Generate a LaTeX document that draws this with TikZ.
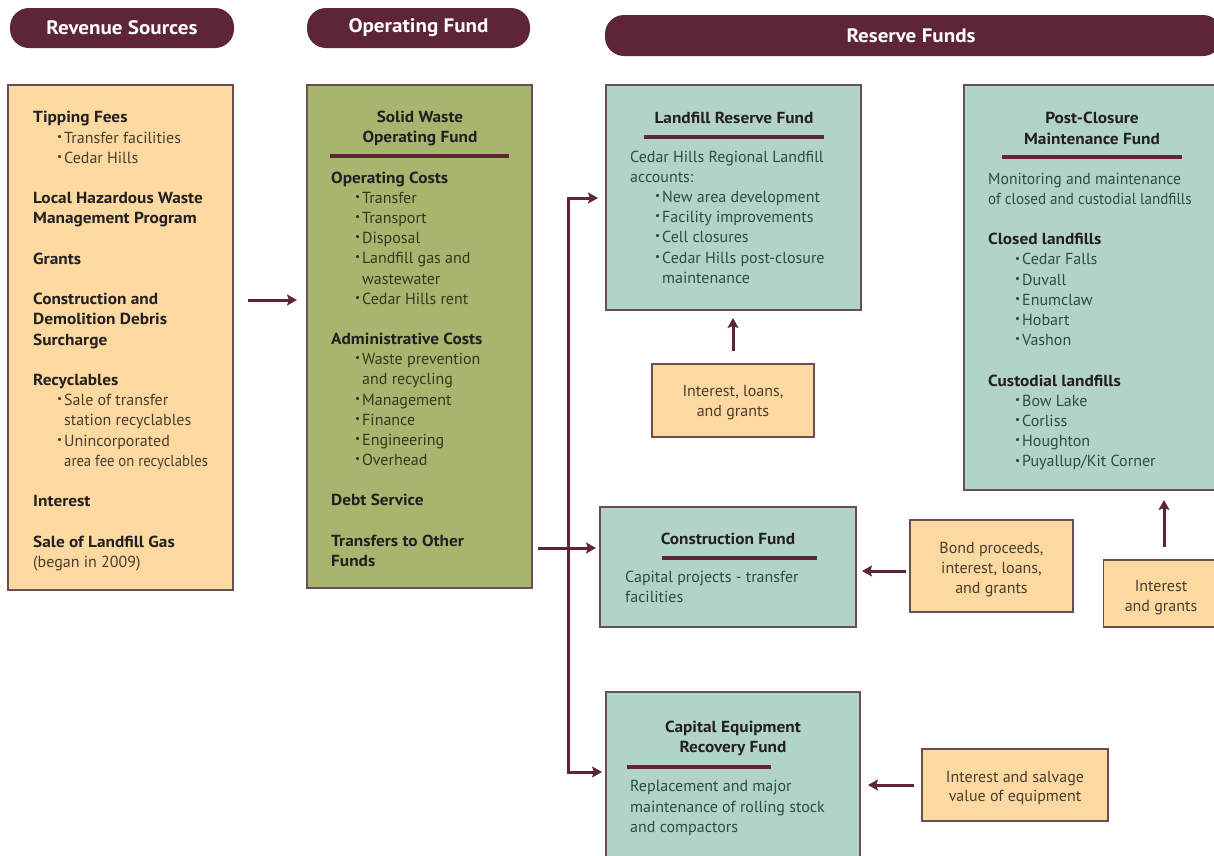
\documentclass[tikz,border=0pt]{standalone}
\usepackage{fontspec}
\usepackage{graphicx}
\setmainfont{PT Sans}[BoldFeatures={FakeStretch=1.08}]
\usetikzlibrary{arrows.meta,calc}
\definecolor{maroon}{HTML}{5E2535}
\definecolor{peach}{HTML}{FCD9A0}
\definecolor{olive}{HTML}{A8B56E}
\definecolor{mint}{HTML}{B2D4C7}
\definecolor{edge}{HTML}{6A4F50}
\definecolor{hdcol}{HTML}{231F20}
\definecolor{txbrown}{HTML}{4D3B2F}
\definecolor{txolive}{HTML}{33381F}
\definecolor{txteal}{HTML}{2E4A45}
\newcommand\mybul{\raisebox{0.18em}{\scalebox{0.7}{\textbullet}}}
\newcommand\rbul{\hspace*{24pt}\makebox[7pt][l]{\mybul}}
\newcommand\rcont{\hspace*{31pt}}
\newcommand\hdr[1]{{\color{hdcol}\bfseries #1}}
\newcommand\narrow[2]{\scalebox{#1}[1]{#2}}
\tikzset{
  pill/.style={fill=maroon, rounded corners=19pt, inner sep=0pt},
  pilltext/.style={text=white, inner sep=0pt, font=\fontsize{19.5}{21}\selectfont\bfseries},
  box/.style={draw=edge, line width=1.4pt, inner sep=0pt, outer sep=0pt, anchor=north west},
  body/.style={anchor=north west, align=left, inner sep=0pt,
    font=\fontsize{16}{20.2}\selectfont, execute at begin node={\strut}},
  ttl/.style={anchor=north, align=center, inner sep=0pt, text=hdcol,
    font=\fontsize{16}{20.2}\selectfont\bfseries, execute at begin node={\strut}},
  smallbox/.style={draw=edge, line width=1.4pt, fill=peach, inner sep=0pt},
  stxt/.style={align=center, inner sep=0pt, text=txbrown, font=\fontsize{16}{19.8}\selectfont},
  rule/.style={draw=maroon, line width=3.2pt},
  tip/.tip={Stealth[length=10pt,width=11pt,inset=2pt]},
  arr/.style={draw=maroon, line width=3pt, -tip},
  arrboth/.style={draw=maroon, line width=3pt, tip-tip},
}
\begin{document}
\begin{tikzpicture}[x=1pt,y=-1pt]
\useasboundingbox (0,0) rectangle (1214,855);
\fill[white] (0,0) rectangle (1214,855);
\clip (0,0) rectangle (1214,855);

% headers
\node[pill, minimum width=224pt, minimum height=40pt] (h1) at (122,28) {};
\node[pilltext] (h1t) at (h1.center) {Revenue Sources};
\node[pill, minimum width=223pt, minimum height=40pt] (h2) at (418.5,28) {};
\node[pilltext] (h2t) at (h2.center) {Operating Fund};
\node[pill, minimum width=617pt, minimum height=41pt] (h3) at (913.5,35.5) {};
\node[pilltext] (h3t) at (911,35.5) {Reserve Funds};

% boxes
\node[box, fill=peach, minimum width=225pt, minimum height=505pt] (rev) at (8,85) {};
\node[box, fill=olive, minimum width=225pt, minimum height=503pt] (op) at (307,85) {};
\node[box, fill=mint, minimum width=255pt, minimum height=225pt] (lrf) at (606,85) {};
\node[box, fill=mint, minimum width=270pt, minimum height=405pt] (pcf) at (964,85) {};
\node[box, fill=mint, minimum width=256pt, minimum height=120pt] (cf) at (600,507) {};
\node[box, fill=mint, minimum width=254pt, minimum height=180pt] (cerf) at (606,692) {};

% revenue text
\node[body, text=txbrown] (revtxt) at (33,111.4) {%
\hdr{Tipping Fees}\\
\rbul Transfer facilities\\
\rbul Cedar Hills\\[20.2pt]
\hdr{Local Hazardous Waste}\\
\hdr{Management Program}\\[20.2pt]
\hdr{Grants}\\[20.2pt]
\hdr{Construction and}\\
\hdr{Demolition Debris}\\
\hdr{Surcharge}\\[20.2pt]
\hdr{Recyclables}\\
\rbul Sale of transfer\\
\rcont station recyclables\\
\rbul Unincorporated\\
\rcont \narrow{0.92}{area fee on recyclables}\\[20.2pt]
\hdr{Interest}\\[20.2pt]
\hdr{Sale of Landfill Gas}\\
(began in 2009)};

% operating text
\node[ttl] (optitle) at (420,110.4) {Solid Waste\\Operating Fund};
\draw[rule] (330,156) -- (509,156);
\node[body, text=txolive] (optxt) at (331,171.4) {%
\hdr{Operating Costs}\\
\rbul Transfer\\
\rbul Transport\\
\rbul Disposal\\
\rbul Landfill gas and\\
\rcont wastewater\\
\rbul Cedar Hills rent\\[20pt]
\hdr{Administrative Costs}\\
\rbul Waste prevention\\
\rcont and recycling\\
\rbul Management\\
\rbul Finance\\
\rbul Engineering\\
\rbul Overhead\\[19.5pt]
\hdr{Debt Service}\\[20.5pt]
\hdr{Transfers to Other}\\
\hdr{Funds}};

% landfill reserve
\node[ttl] (lrftitle) at (734,109.6) {Landfill Reserve Fund};
\draw[rule] (644,137) -- (824,137);
\node[body, text=txteal] (lrftxt) at (630,150.4) {%
Cedar Hills Regional Landfill\\
accounts:\\
\hspace*{1pt}\rbul New area development\\
\hspace*{1pt}\rbul Facility improvements\\
\hspace*{1pt}\rbul Cell closures\\
\hspace*{1pt}\rbul Cedar Hills post-closure\\
\hspace*{1pt}\rcont maintenance};

% post-closure
\node[ttl, font=\fontsize{16}{20.8}\selectfont\bfseries] (pcftitle) at (1092,111.6) {Post-Closure\\Maintenance Fund};
\draw[rule] (1002,157) -- (1182,157);
\node[body, text=txteal] (pcftxt) at (988,172.6) {%
\narrow{0.98}{Monitoring and maintenance}\\
\narrow{0.94}{of closed and custodial landfills}\\[20.2pt]
\hdr{Closed landfills}\\
\hspace*{3pt}\rbul Cedar Falls\\
\hspace*{3pt}\rbul Duvall\\
\hspace*{3pt}\rbul Enumclaw\\
\hspace*{3pt}\rbul Hobart\\
\hspace*{3pt}\rbul Vashon\\[20.2pt]
\hdr{Custodial landfills}\\
\hspace*{3pt}\rbul Bow Lake\\
\hspace*{3pt}\rbul Corliss\\
\hspace*{3pt}\rbul Houghton\\
\hspace*{3pt}\rbul Puyallup/Kit Corner};

% construction fund
\node[ttl] (cftitle) at (728,530.6) {Construction Fund};
\draw[rule] (662,558) -- (817,558);
\node[body, text=txteal, font=\fontsize{16}{19.5}\selectfont] (cftxt) at (625,571.2) {%
Capital projects - transfer\\
facilities};

% capital equipment
\node[ttl] (cerftitle) at (733,720.4) {Capital Equipment\\Recovery Fund};
\draw[rule] (627,767) -- (771,767);
\node[body, text=txteal] (cerftxt) at (630,780.4) {%
Replacement and major\\
maintenance of rolling stock\\
and compactors};

% small source boxes
\node[smallbox, minimum width=162pt, minimum height=73pt] (ilg) at (733,400.5) {};
\node[stxt] (ilgt) at ([yshift=-2pt]ilg.center) {Interest, loans,\\and grants};
\node[smallbox, minimum width=163pt, minimum height=92pt] (bond) at (991.5,566) {};
\node[stxt] (bondt) at ([yshift=-3.5pt]bond.center) {Bond proceeds,\\interest, loans,\\and grants};
\node[smallbox, minimum width=118pt, minimum height=67pt, anchor=west] (ig) at (1103,593.5) {};
\node[stxt] (igt) at (1161,597.5) {Interest\\and grants};
\node[smallbox, minimum width=186pt, minimum height=72pt] (isv) at (1015,785) {};
\node[stxt] (isvt) at ([yshift=-3pt]isv.center) {Interest and salvage\\value of equipment};

% connectors
\coordinate (ya) at (270,300);
\draw[arr, shorten <=15pt, shorten >=10pt] (rev.east |- ya) -- (op.west |- ya);
\coordinate (trtop) at (568,198);
\coordinate (trbot) at (568,772);
\coordinate (ymid) at (568,548);
\draw[arrboth, shorten <=8pt, shorten >=4pt] (trtop -| lrf.west) -- (trtop) -- (trbot) -- (trbot -| cerf.west);
\draw[arr, shorten <=6pt, shorten >=4pt] (op.east |- ymid) -- (cf.west |- ymid);
\draw[arr, shorten <=12pt, shorten >=8pt] (ilg.north) -- (ilg.north |- lrf.south);
\coordinate (yb) at (880,571);
\draw[arr, shorten <=3pt, shorten >=6pt] (bond.west |- yb) -- (cf.east |- yb);
\coordinate (xc) at (1164,520);
\draw[arr, shorten <=12pt, shorten >=10pt] (xc |- ig.north) -- (xc |- pcf.south);
\draw[arr, shorten <=7pt, shorten >=8pt] (isv.west) -- (isv.west -| cerf.east);
\end{tikzpicture}
\end{document}
